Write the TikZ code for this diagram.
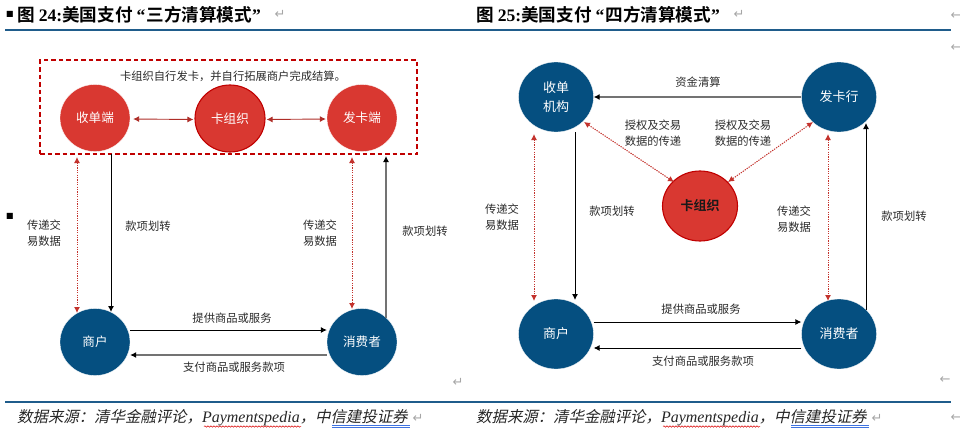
\documentclass[tikz,border=0pt]{standalone}
\usepackage{fontspec}
\setmainfont{Noto Sans CJK SC}
\newfontfamily\titlefont{Noto Sans CJK SC Bold}
\newfontfamily\titlelat{Liberation Serif}[BoldFont={Liberation Serif Bold}]
\newfontfamily\srcfont[FakeSlant=0.22]{Noto Sans CJK SC}
\newfontfamily\srclat{Liberation Serif}
\newfontfamily\symfont{DejaVu Sans}
\usetikzlibrary{arrows.meta,shapes.geometric,calc,decorations.pathmorphing}
\definecolor{nblue}{HTML}{054F80}
\definecolor{nred}{HTML}{D93831}
\definecolor{dred}{HTML}{C00000}
\definecolor{rule}{HTML}{1F5C8B}
\definecolor{ink}{HTML}{2B2B2B}
\definecolor{ulblue}{HTML}{3F73E0}
\tikzset{
  x=1pt,y=-1pt,
  circ/.style={ellipse,inner sep=0pt,text=white,align=center,font=\fontsize{12.6}{16}\selectfont},
  smallc/.style={circ,minimum width=70pt,minimum height=67pt},
  bigc/.style={circ,minimum width=75pt,minimum height=70pt,font=\fontsize{13}{18.5}\selectfont},
  bluec/.style={fill=nblue,draw=white,line width=.3pt},
  redc/.style={fill=nred,draw=white,line width=.3pt},
  orgc/.style={fill=nred,draw=dred,line width=1.1pt},
  lab/.style={inner sep=0pt,text=ink,align=center,font=\fontsize{11.3}{16.3}\selectfont},
  solidarrow/.style={-{Latex[length=6pt,width=6pt]},line width=.9pt,color=black},
  grayarrow/.style={-{Latex[length=6pt,width=6pt,color=black]},line width=1.1pt,color=black!55},
  redboth/.style={{Latex[length=6pt,width=6pt]}-{Latex[length=6pt,width=6pt]},line width=.9pt,color=nred!80!black},
  dotboth/.style={{Latex[length=6pt,width=6pt]}-{Latex[length=6pt,width=6pt]},color=nred!90!black,line width=1pt,dash pattern=on 1.3pt off 1.1pt},
  heading/.style={inner sep=0pt,anchor=west,text=black,font=\titlefont\fontsize{17.6}{20}\selectfont},
  source/.style={inner sep=0pt,anchor=west,text=black!85,font=\srcfont\fontsize{15.4}{18}\selectfont},
  retmark/.style={inner sep=0pt,text=black!35,font=\symfont\fontsize{13}{14}\selectfont},
  bulletmark/.style={inner sep=0pt,text=black,font=\symfont\fontsize{8}{10}\selectfont},
  rulerline/.style={line width=1.6pt,color=rule},
}
\newcommand{\openquo}{\kern4pt{\titlelat\bfseries “}\kern1pt}
\newcommand{\closequo}{{\titlelat\bfseries ”}}
\begin{document}
\begin{tikzpicture}
\useasboundingbox (0,0) rectangle (960,439);
% rules
\coordinate (r1a) at (5,30); \coordinate (r1b) at (951,30);
\coordinate (r2a) at (5,402); \coordinate (r2b) at (951,402);
\draw[rulerline] (r1a) -- (r1b);
\draw[rulerline,line width=1.2pt] (r2a) -- (r2b);
% headings
\node[bulletmark] (b1) at (10,14) {■};
\node[bulletmark] (b2) at (10,216) {■};
\node[heading] (t1) at (17,15) {图 {\titlelat\bfseries 24:}美国支付\openquo 三方清算模式\closequo};
\node[heading] (t2) at (476,15) {图 {\titlelat\bfseries 25:}美国支付\openquo 四方清算模式\closequo};
\node[retmark] (m1) at (280,14) {↵};
\node[retmark] (m2) at (739,14) {↵};
\node[retmark] (m3) at (956,16) {←};
\node[retmark] (m4) at (956,48) {←};
\node[retmark] (m5) at (458,382) {↵};
\node[retmark] (m6) at (945,380) {←};
\node[retmark] (m7) at (956,418) {←};
% left diagram
\node[draw=dred,line width=1.4pt,dash pattern=on 4.5pt off 3pt,minimum width=377pt,minimum height=94pt,inner sep=0pt] (frame) at (228.5,107) {};
\node[lab] (note) at (233,76) {卡组织自行发卡，并自行拓展商户完成结算。};
\node[smallc,redc] (sd) at (95,118) {收单端};
\node[smallc,orgc] (kz) at (230,118.5) {卡组织};
\node[smallc,redc] (fk) at (362,118) {发卡端};
\node[smallc,bluec] (sh) at (95,342) {商户};
\node[smallc,bluec] (xf) at (362,342) {消费者};
\draw[redboth] ($(sd.east)+(3,1)$) -- ($(kz.west)+(-1,1)$);
\draw[redboth] ($(kz.east)+(1,1)$) -- ($(fk.west)+(-1,1)$);
\draw[dotboth] ($(sd.center)+(-18,39)$) -- ($(sh.center)+(-18,-29)$);
\draw[solidarrow] ($(sd.center)+(16,36)$) -- ($(sh.center)+(16,-30)$);
\draw[dotboth] ($(fk.center)+(-10,39)$) -- ($(xf.center)+(-10,-33)$);
\draw[grayarrow] ($(xf.center)+(24,-24)$) -- ($(fk.center)+(24,38)$);
\draw[solidarrow] ($(sh.east)+(0,-12)$) -- ($(xf.west)+(0,-12)$);
\draw[grayarrow] ($(xf.west)+(0,13)$) -- ($(sh.east)+(0,13)$);
\node[lab] (l1) at (44,233) {传递交\\易数据};
\node[lab] (l2) at (148,226) {款项划转};
\node[lab] (l3) at (320,233) {传递交\\易数据};
\node[lab] (l4) at (425,231) {款项划转};
\node[lab] (l5) at (232,318) {提供商品或服务};
\node[lab] (l6) at (234,367) {支付商品或服务款项};
% right diagram
\node[bigc,bluec] (sj) at (556,97) {收单\\机构};
\node[bigc,bluec] (fh) at (839,97) {发卡行};
\node[bigc,orgc,font=\titlefont\fontsize{13}{18}\selectfont,text=black!90] (kr) at (700,206) {卡组织};
\node[bigc,bluec] (sr) at (556,334) {商户};
\node[bigc,bluec] (xr) at (839,334) {消费者};
\draw[grayarrow] (fh.west) -- (sj.east);
\draw[dotboth] ($(sj.center)+(28,25)$) -- ($(kr.center)+(-26,-24)$);
\draw[dotboth] ($(fh.center)+(-26,25)$) -- ($(kr.center)+(28,-24)$);
\draw[dotboth] ($(sj.center)+(-22,37)$) -- ($(sr.center)+(-22,-33)$);
\draw[solidarrow] ($(sj.center)+(19,35)$) -- ($(sr.center)+(19,-34)$);
\draw[dotboth] ($(fh.center)+(-11,37)$) -- ($(xr.center)+(-11,-33)$);
\draw[solidarrow] ($(xr.center)+(27,-24)$) -- ($(fh.center)+(27,26)$);
\draw[solidarrow] ($(sr.east)+(0,-12)$) -- ($(xr.west)+(0,-12)$);
\draw[solidarrow] ($(xr.west)+(0,14)$) -- ($(sr.east)+(0,14)$);
\node[lab] (r1) at (698,82) {资金清算};
\node[lab] (r2) at (653,133.5) {授权及交易\\数据的传递};
\node[lab] (r3) at (743,133) {授权及交易\\数据的传递};
\node[lab] (r4) at (502,217.5) {传递交\\易数据};
\node[lab] (r5) at (612,211) {款项划转};
\node[lab] (r6) at (794,219) {传递交\\易数据};
\node[lab] (r7) at (904,216) {款项划转};
\node[lab] (r8) at (701,309) {提供商品或服务};
\node[lab] (r9) at (703,361) {支付商品或服务款项};
% sources
\node[source] (s1) at (17,417.5) {数据来源：清华金融评论，{\srclat\itshape\fontsize{16}{18}\selectfont Paymentspedia}，中信建投证券};
\node[source] (s2) at (476,417.5) {数据来源：清华金融评论，{\srclat\itshape\fontsize{16}{18}\selectfont Paymentspedia}，中信建投证券};
\node[retmark] (m8) at (418,418) {↵};
\node[retmark] (m9) at (877,418) {↵};
% spell-check underlines
\coordinate (w1a) at (204,426.5); \coordinate (w1b) at (301,426.5);
\coordinate (w2a) at (663,426.5); \coordinate (w2b) at (760,426.5);
\coordinate (u1a) at (332,425.5); \coordinate (u1b) at (410,425.5);
\coordinate (u2a) at (791,425.5); \coordinate (u2b) at (869,425.5);
\foreach \a/\b in {w1a/w1b,w2a/w2b}
  \draw[red!85!black,line width=.5pt,decorate,decoration={snake,amplitude=.7pt,segment length=3pt}] (\a) -- (\b);
\foreach \a/\b in {u1a/u1b,u2a/u2b}{
  \draw[ulblue,line width=.6pt] (\a) -- (\b);
  \draw[ulblue,line width=.6pt] ($(\a)+(0,1.8)$) -- ($(\b)+(0,1.8)$);
}
\end{tikzpicture}
\end{document}
